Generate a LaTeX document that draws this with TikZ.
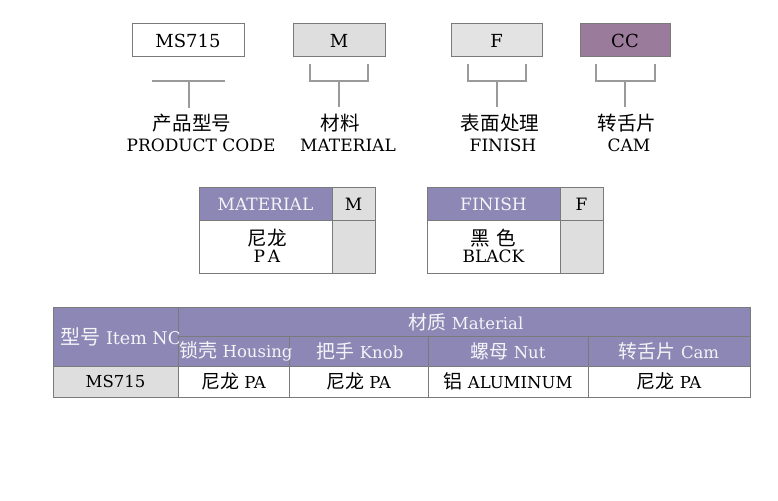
\documentclass[tikz,border=0pt]{standalone}
\usepackage{fontspec}
\setmainfont{DejaVu Serif}
\newfontfamily\cjk[Scale=1.15]{Noto Sans CJK SC}
\definecolor{hdr}{HTML}{8C87B4}
\definecolor{cellgray}{HTML}{DEDEDE}
\definecolor{mauve}{HTML}{9B7B9B}
\definecolor{bord}{HTML}{7A7A7A}
\definecolor{brk}{HTML}{9A9A9A}
\definecolor{hdrtext}{HTML}{F4F4F8}
\tikzset{
  topbox/.style={draw=bord, line width=1pt, minimum width=#1, minimum height=33pt, inner sep=0pt, font=\fontsize{18}{18}\selectfont},
  brack/.style={draw=brk, line width=1.2pt},
  cell/.style={draw=bord, line width=0.9pt},
  lbl/.style={inner sep=0pt, align=center},
  hdrtxt/.style={inner sep=0pt, text=hdrtext, font=\fontsize{16.5}{16.5}\selectfont},
  bodytxt/.style={inner sep=0pt, font=\fontsize{16.5}{16.5}\selectfont},
}
\begin{document}
\begin{tikzpicture}[x=1pt,y=-1pt]
\useasboundingbox (0,0) rectangle (778,500);
% top code boxes
\node[topbox=112pt, fill=white] (b1) at (188,40.5) {MS715};
\node[topbox=92pt, fill=cellgray] (b2) at (339,40.5) {M};
\node[topbox=91pt, fill=cellgray!85!white] (b3) at (496.5,40.5) {F};
\node[topbox=90pt, fill=mauve] (b4) at (625,40.5) {CC};
% brackets
\coordinate (k1a) at (152,81); \coordinate (k1b) at (225,81);
\coordinate (k1c) at (189,81); \coordinate (k1d) at (189,108);
\draw[brack] (k1a) -- (k1b); \draw[brack] (k1c) -- (k1d);
\foreach \n/\l/\r/\c in {2/310/368/339, 3/468/526/497, 4/596/655/625}{
  \draw[brack] (\l,64) -- (\l,81) -- (\r,81) -- (\r,64);
  \draw[brack] (\c,81) -- (\c,107);
}
% labels
\node[lbl, font=\cjk\fontsize{17}{17}\selectfont] (l1c) at (192,123) {产品型号};
\node[lbl, font=\fontsize{17}{17}\selectfont] (l1e) at (201,145) {PRODUCT CODE};
\node[lbl, font=\cjk\fontsize{17}{17}\selectfont] (l2c) at (340,123) {材料};
\node[lbl, font=\fontsize{17}{17}\selectfont] (l2e) at (348,145) {MATERIAL};
\node[lbl, font=\cjk\fontsize{17}{17}\selectfont] (l3c) at (500,123) {表面处理};
\node[lbl, font=\fontsize{17}{17}\selectfont] (l3e) at (503,145) {FINISH};
\node[lbl, font=\cjk\fontsize{17}{17}\selectfont] (l4c) at (627,123) {转舌片};
\node[lbl, font=\fontsize{17}{17}\selectfont] (l4e) at (629,145) {CAM};
% material table
\draw[cell, fill=hdr] (199,187) rectangle (332,220);
\draw[cell, fill=cellgray] (332,187) rectangle (375,220);
\draw[cell, fill=white] (199,220) rectangle (332,273);
\draw[cell, fill=cellgray] (332,220) rectangle (375,273);
\node[hdrtxt, font=\fontsize{17}{17}\selectfont] (mh) at (265.5,204) {MATERIAL};
\node[bodytxt, font=\fontsize{17}{17}\selectfont] (mm) at (353.5,204) {M};
\node[lbl, font=\cjk\fontsize{17}{17}\selectfont] (mpc) at (267,238) {尼龙};
\node[lbl, font=\fontsize{17}{17}\selectfont] (mpe) at (267,256) {P\,A};
% finish table
\draw[cell, fill=hdr] (427,187) rectangle (560,220);
\draw[cell, fill=cellgray] (560,187) rectangle (603,220);
\draw[cell, fill=white] (427,220) rectangle (560,273);
\draw[cell, fill=cellgray] (560,220) rectangle (603,273);
\node[hdrtxt, font=\fontsize{17}{17}\selectfont] (fh) at (493.5,204) {FINISH};
\node[bodytxt, font=\fontsize{17}{17}\selectfont] (ff) at (581.5,204) {F};
\node[lbl, font=\cjk\fontsize{17}{17}\selectfont] (fbc) at (493.5,238) {黑\hspace{6pt}色};
\node[lbl, font=\fontsize{17}{17}\selectfont] (fbe) at (493.5,256) {BLACK};
% bottom table
\fill[hdr] (53,307) rectangle (750,366);
\fill[cellgray] (53,366) rectangle (178,397);
\fill[white] (178,366) rectangle (750,397);
\draw[cell] (53,307) rectangle (750,397);
\draw[cell] (178,336) -- (750,336);
\draw[cell] (53,366) -- (750,366);
\draw[cell] (178,307) -- (178,397);
\foreach \x in {289,428,588} \draw[cell] (\x,336) -- (\x,397);
\begin{scope}
\clip (53,307) rectangle (178,366);
\node[hdrtxt, anchor=west, font=\fontsize{17.5}{17.5}\selectfont] (itemno) at (60,337) {{\cjk 型号} Item NO};
\end{scope}
\node[hdrtxt] (mat) at (466,322) {{\cjk 材质} Material};
\node[hdrtxt] (hou) at (236,351) {{\cjk 锁壳} Housing};
\node[hdrtxt] (kno) at (360,351) {{\cjk 把手} Knob};
\node[hdrtxt] (nut) at (508,351) {{\cjk 螺母} Nut};
\node[hdrtxt] (cam) at (669,351) {{\cjk 转舌片} Cam};
\node[bodytxt] (r1) at (115.5,381.5) {MS715};
\node[bodytxt] (r2) at (233.5,381.5) {{\cjk 尼龙} PA};
\node[bodytxt] (r3) at (358.5,381.5) {{\cjk 尼龙} PA};
\node[bodytxt] (r4) at (508,381.5) {{\cjk 铝} ALUMINUM};
\node[bodytxt] (r5) at (669,381.5) {{\cjk 尼龙} PA};
\end{tikzpicture}
\end{document}
